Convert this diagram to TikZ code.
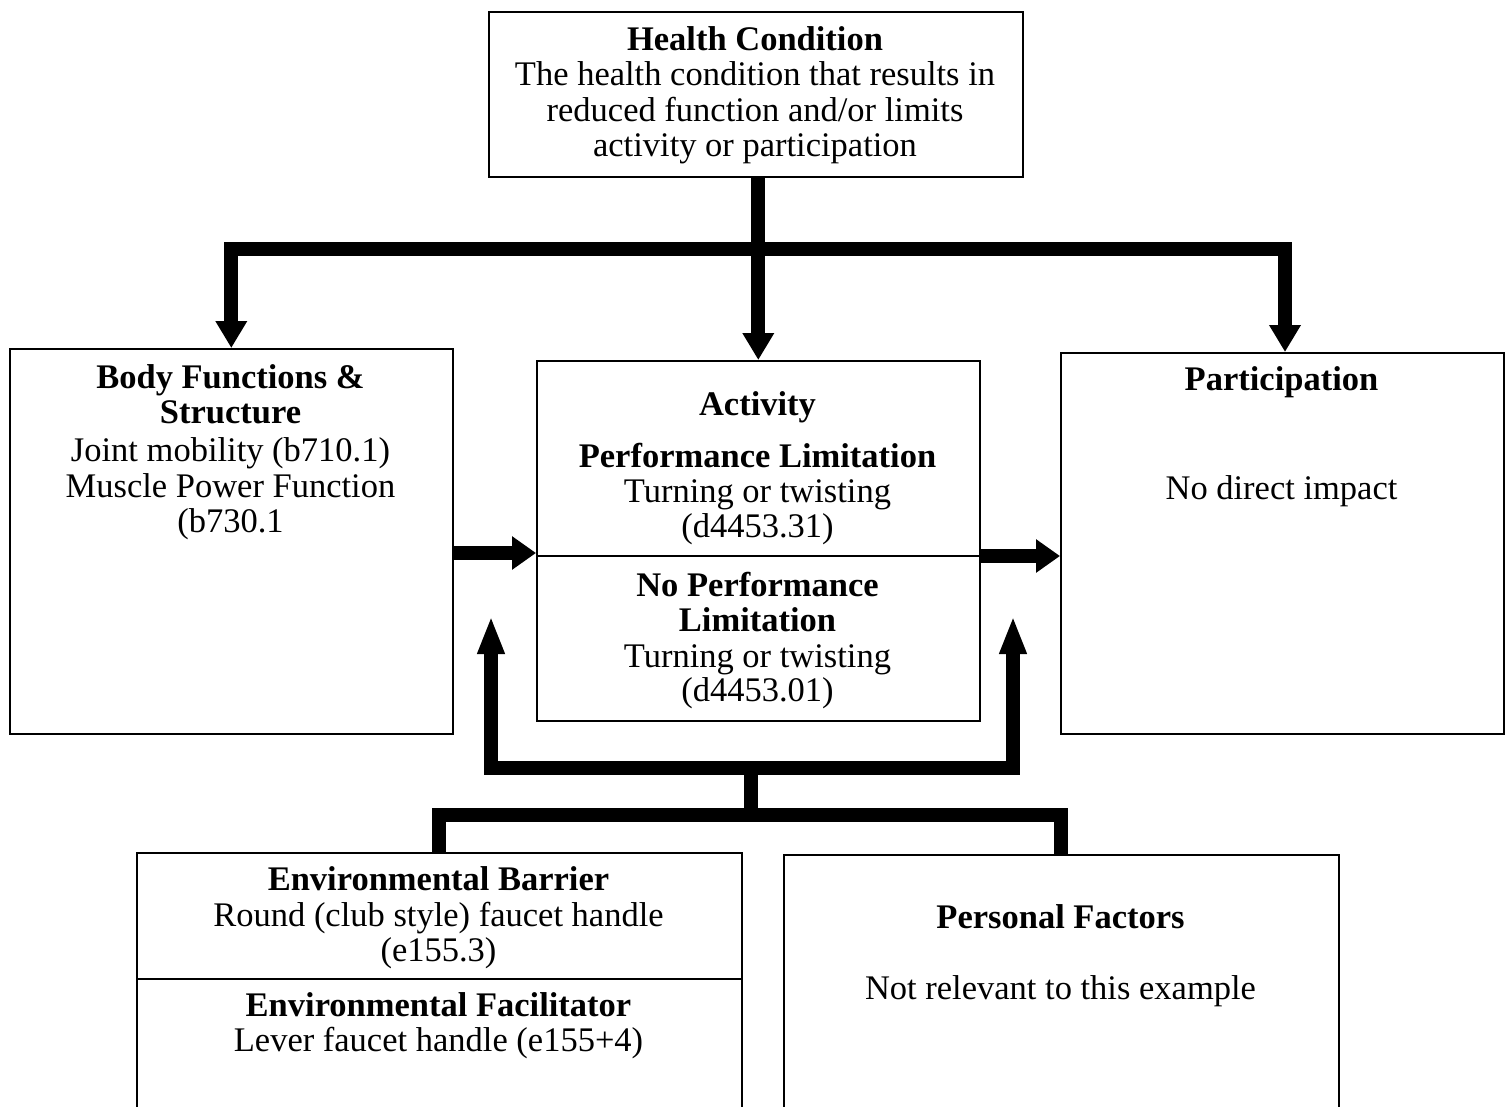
\documentclass[tikz,border=0pt]{standalone}
\usepackage{fontspec}
\setmainfont{Liberation Serif}
\usetikzlibrary{arrows.meta}
\begin{document}
\begin{tikzpicture}[x=1pt,y=-1pt,
  box/.style={draw,line width=1.6pt,inner sep=0pt,anchor=north west},
  txt/.style={font=\fontsize{34.5}{36}\selectfont,anchor=base,inner sep=0pt},
  btxt/.style={font=\fontsize{34.5}{36}\selectfont\bfseries,anchor=base,inner sep=0pt},
  conn/.style={line width=14pt,line join=miter,line cap=butt},
  downtip/.style={-{Triangle[length=27pt,width=30pt]}},
  sidetip/.style={-{Triangle[length=24pt,width=32pt]}},
  uptip/.style={-{Triangle[length=38pt,width=25pt]}}
]
\useasboundingbox (0,0) rectangle (1507,1106);
\fill[white] (0,0) rectangle (1507,1106);
\clip (0,0) rectangle (1507,1106);

% boxes
\node[box,minimum width=534pt,minimum height=165pt] (hc) at (488,11) {};
\node[box,minimum width=443pt,minimum height=385pt] (body) at (9,348) {};
\node[box,minimum width=443pt,minimum height=360pt] (act) at (536,360) {};
\node[box,minimum width=443pt,minimum height=381pt] (part) at (1060,352) {};
\node[box,minimum width=605pt,minimum height=280pt] (env) at (136,852) {};
\node[box,minimum width=555pt,minimum height=280pt] (pers) at (783,854) {};

% dividers
\draw[line width=1.6pt] (act.west |- 0,556) -- (act.east |- 0,556);
\draw[line width=1.6pt] (env.west |- 0,979) -- (env.east |- 0,979);

% texts
\node[btxt] (hc1) at (755,50) {Health Condition};
\node[txt] (hc2) at (755,85.5) {The health condition that results in};
\node[txt] (hc3) at (755,121) {reduced function and/or limits};
\node[txt] (hc4) at (755,156.5) {activity or participation};

\node[btxt] (b1) at (230.5,388) {Body Functions \&};
\node[btxt] (b2) at (230.5,423) {Structure};
\node[txt] (b3) at (230.5,461) {Joint mobility (b710.1)};
\node[txt] (b4) at (230.5,497) {Muscle Power Function};
\node[txt] (b5) at (230.5,532) {(b730.1};

\node[btxt] (a1) at (757.5,415) {Activity};
\node[btxt] (a2) at (757.5,467) {Performance Limitation};
\node[txt] (a3) at (757.5,502) {Turning or twisting};
\node[txt] (a4) at (757.5,537) {(d4453.31)};
\node[btxt] (a5) at (757.5,596) {No Performance};
\node[btxt] (a6) at (757.5,631) {Limitation};
\node[txt] (a7) at (757.5,667) {Turning or twisting};
\node[txt] (a8) at (757.5,701) {(d4453.01)};

\node[btxt] (p1) at (1281.5,390) {Participation};
\node[txt] (p2) at (1281.5,499) {No direct impact};

\node[btxt] (e1) at (438.5,890) {Environmental Barrier};
\node[txt] (e2) at (438.5,926) {Round (club style) faucet handle};
\node[txt] (e3) at (438.5,961) {(e155.3)};
\node[btxt] (e4) at (438.5,1016) {Environmental Facilitator};
\node[txt] (e5) at (438.5,1051) {Lever faucet handle (e155+4)};

\node[btxt] (f1) at (1060.5,928) {Personal Factors};
\node[txt] (f2) at (1060.5,999) {Not relevant to this example};

% top connectors
\coordinate (hcj) at (757.5,249);
\coordinate (pin) at (1285,352);
\draw[conn,downtip] (hc.south -| act.north) -- (act.north);
\draw[conn,downtip] (hcj) -| (body.north);
\draw[conn,downtip] (hcj) -| (pin);

% side arrows
\draw[conn,sidetip] (body.east |- 0,553) -- (act.west |- 0,553);
\draw[conn,sidetip] (act.east |- 0,556) -- (part.west |- 0,556);

% bottom connectors
\coordinate (ul) at (491,616);
\coordinate (ur) at (1013,616);
\coordinate (uj) at (751,768);
\coordinate (lj) at (751,815);
\draw[conn,uptip] (uj) -| (ul);
\draw[conn,uptip] (uj) -| (ur);
\draw[conn] (uj) -- (lj);
\draw[conn] (lj) -| (env.north);
\draw[conn] (lj) -| (pers.north);
\end{tikzpicture}
\end{document}
